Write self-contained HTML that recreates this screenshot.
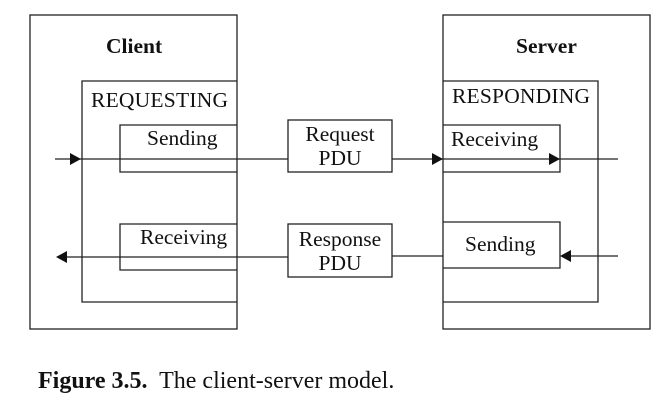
<!DOCTYPE html>
<html><head><style>
body{margin:0;background:#fff;}
svg{display:block;}
text{font-family:"Liberation Serif",serif;fill:#111;}
</style></head><body>
<svg width="670" height="407" viewBox="0 0 670 407" xmlns="http://www.w3.org/2000/svg">
<g fill="none" stroke="#222" stroke-width="1.3">
<rect x="30" y="15" width="207" height="314"/>
<polyline points="237,81 82,81 82,302 237,302"/>
<polyline points="237,125 120,125 120,172 237,172"/>
<polyline points="237,224 120,224 120,270 237,270"/>
<rect x="288" y="120" width="104" height="52"/>
<rect x="288" y="224" width="104" height="53"/>
<rect x="443" y="15" width="207" height="314"/>
<polyline points="443,81 598,81 598,302 443,302"/>
<polyline points="443,125 560,125 560,172 443,172"/>
<polyline points="443,222 560,222 560,268 443,268"/>
<line x1="55" y1="159" x2="288" y2="159"/>
<line x1="392" y1="159" x2="618" y2="159"/>
<line x1="60" y1="257" x2="288" y2="257"/>
<line x1="392" y1="256" x2="443" y2="256"/>
<line x1="565" y1="256" x2="618" y2="256"/>
</g>
<g fill="#111">
<polygon points="81,159 70,153 70,165"/>
<polygon points="443,159 432,153 432,165"/>
<polygon points="560,159 549,153 549,165"/>
<polygon points="56,257 67,251 67,263"/>
<polygon points="560,256 571,250 571,262"/>
</g>
<g font-size="21.5">
<text x="106" y="53" font-weight="bold">Client</text>
<text x="516" y="53" font-weight="bold">Server</text>
<text x="91" y="107" textLength="137">REQUESTING</text>
<text x="452" y="103" textLength="138">RESPONDING</text>
<text x="147" y="145">Sending</text>
<text x="140" y="244">Receiving</text>
<text x="451" y="146">Receiving</text>
<text x="465" y="251">Sending</text>
<text x="340" y="141" text-anchor="middle">Request</text>
<text x="340" y="165" text-anchor="middle">PDU</text>
<text x="340" y="246" text-anchor="middle">Response</text>
<text x="340" y="270" text-anchor="middle">PDU</text>
</g>
<text x="38" y="388" font-size="24" xml:space="preserve"><tspan font-weight="bold">Figure 3.5.</tspan>  The client-server model.</text>
</svg>
</body></html>
